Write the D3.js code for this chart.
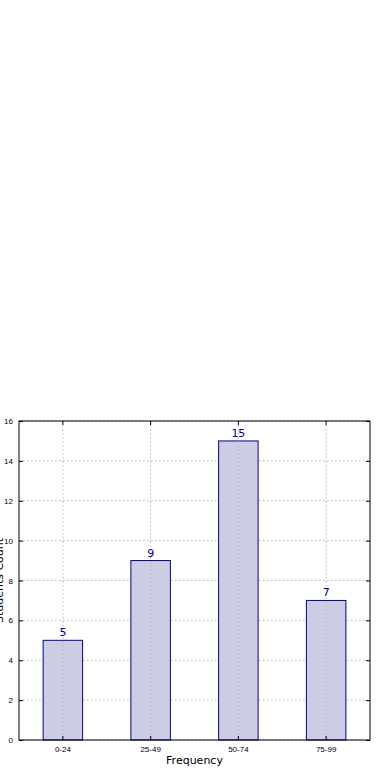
<!DOCTYPE html>
<html>
<head>
<meta charset="utf-8">
<script src="https://cdn.jsdelivr.net/npm/d3@7"></script>
<style>
  body { margin: 0; background: #fff; }
  svg { display: block; font-family: "DejaVu Sans", sans-serif; }
  .grid line { stroke: #b0b0b0; stroke-dasharray: 1.5 2.5; }
  .axis text { font-size: 8px; fill: #000; }
</style>
</head>
<body>
<svg></svg>
<script>
let categories = ['0-24', '25-49', '50-74', '75-99']
let counts = [5, 9, 15, 7]
let yTicks = [0, 2, 4, 6, 8, 10, 12, 14, 16]

let width = 390
let height = 780
let plotLeft = 19, plotRight = 370, plotTop = 421, plotBottom = 740

let svg = d3.select('svg').attr('width', width).attr('height', height)

let xScale = d3.scaleBand()
    .domain(categories)
    .range([plotLeft, plotRight])
    .paddingInner(0.55)
    .paddingOuter(0.275)

let yScale = d3.scaleLinear()
    .domain([0, 16])
    .range([plotBottom, plotTop])

let center = (c) => xScale(c) + xScale.bandwidth() / 2

// horizontal grid
svg.append('g').attr('class', 'grid')
    .selectAll('line')
    .data(yTicks)
    .enter()
    .append('line')
    .attr('x1', plotLeft).attr('x2', plotRight)
    .attr('y1', (d) => yScale(d)).attr('y2', (d) => yScale(d))

// bars
svg.selectAll('rect.bar')
    .data(counts)
    .enter()
    .append('rect')
    .attr('class', 'bar')
    .attr('x', (d, i) => xScale(categories[i]))
    .attr('y', (d) => yScale(d))
    .attr('width', xScale.bandwidth())
    .attr('height', (d) => yScale(0) - yScale(d))
    .attr('fill', '#ccccE5')
    .attr('stroke', '#00008b')
    .attr('stroke-width', 1)

// vertical grid drawn over the bars
svg.append('g').attr('class', 'grid')
    .selectAll('line')
    .data(categories)
    .enter()
    .append('line')
    .attr('x1', center).attr('x2', center)
    .attr('y1', plotTop).attr('y2', plotBottom)

svg.selectAll('text.val')
    .data(counts)
    .enter()
    .append('text')
    .attr('class', 'val')
    .attr('x', (d, i) => center(categories[i]))
    .attr('y', (d) => yScale(d) - 4)
    .attr('text-anchor', 'middle')
    .attr('font-size', 11)
    .attr('fill', '#000080')
    .text((d) => d)

// axes, ticks pointing inward
let xAxis = d3.axisBottom(xScale).tickSize(-4).tickPadding(6)
let yAxis = d3.axisLeft(yScale).tickValues(yTicks).tickSize(-4).tickPadding(6)

svg.append('g')
    .attr('class', 'axis')
    .attr('transform', 'translate(0,' + plotBottom + ')')
    .call(xAxis)
    .call((g) => g.select('.domain').remove())
svg.append('g')
    .attr('class', 'axis')
    .attr('transform', 'translate(' + plotLeft + ',0)')
    .call(yAxis)
    .call((g) => g.select('.domain').remove())
svg.append('g')
    .attr('transform', 'translate(' + plotRight + ',0)')
    .call(d3.axisRight(yScale).tickValues(yTicks).tickSize(-4).tickFormat(''))
    .call((g) => g.select('.domain').remove())
svg.append('g')
    .attr('transform', 'translate(0,' + plotTop + ')')
    .call(d3.axisTop(xScale).tickSize(-4).tickFormat(''))
    .call((g) => g.select('.domain').remove())

svg.append('rect')
    .attr('x', plotLeft).attr('y', plotTop)
    .attr('width', plotRight - plotLeft).attr('height', plotBottom - plotTop)
    .attr('fill', 'none')
    .attr('stroke', '#000')

svg.append('text')
    .attr('x', (plotLeft + plotRight) / 2)
    .attr('y', 764)
    .attr('text-anchor', 'middle')
    .attr('font-size', 11)
    .text('Frequency')

svg.append('text')
    .attr('transform', 'translate(3,' + ((plotTop + plotBottom) / 2) + ') rotate(-90)')
    .attr('text-anchor', 'middle')
    .attr('font-size', 11)
    .text('Students Count')
</script>
</body>
</html>
